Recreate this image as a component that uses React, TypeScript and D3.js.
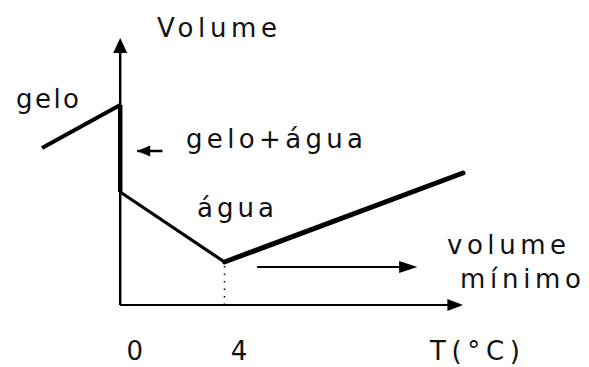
import React from "react";
import * as d3 from "d3";

// Temperature (°C) and relative volume along the curve
const segmentGelo = [
  { t: -3, v: 157 },
  { t: 0, v: 200 },
];
const segmentFusao = [
  { t: 0, v: 200 },
  { t: 0, v: 113 },
];
const segmentAguaFria = [
  { t: 0, v: 113 },
  { t: 4, v: 43 },
];
const segmentAguaQuente = [
  { t: 4, v: 43 },
  { t: 13.15, v: 132 },
];
const tickTemps = [0, 4];
const tickLabels = ["0", "4"];

const W = 589;
const H = 367;

type Label = { text: string; x: number; y: number; len: number };

export default function App() {
  const x = d3.scaleLinear().domain([-3, 13.15]).range([42, 463]);
  const y = d3.scaleLinear().domain([0, 265]).range([305, 40]);
  const line = d3
    .line<{ t: number; v: number }>()
    .x((d) => x(d.t))
    .y((d) => y(d.v));

  const x0 = x(0);
  const y0 = y(0);
  const tMin = segmentAguaFria[1];
  const font = "'DejaVu Sans', 'Liberation Sans', Arial, sans-serif";
  const textStyle = { fontFamily: font, fontSize: 26, fill: "#111" };

  const labels: Label[] = [
    { text: "Volume", x: 157, y: 37, len: 120 },
    { text: "gelo", x: 16, y: 108, len: 63 },
    { text: "gelo+água", x: 186, y: 148, len: 177 },
    { text: "água", x: 197, y: 217, len: 77 },
    { text: "volume", x: 447, y: 254, len: 119 },
    { text: "mínimo", x: 460, y: 288, len: 121 },
    { text: "T(°C)", x: 430, y: 360, len: 90 },
  ];

  return (
    <svg
      width={W}
      height={H}
      style={{ position: "absolute", left: 0, top: 0, background: "#fff" }}
    >
      {/* axes */}
      <line x1={x0} y1={y0} x2={x0} y2={y(262)} stroke="#000" strokeWidth={2.5} />
      <path d={`M${x0},${y(267)} L${x0 - 7},${y(252)} L${x0 + 7},${y(252)} Z`} fill="#000" />
      <line x1={x0} y1={y0} x2={x(12.7)} y2={y0} stroke="#000" strokeWidth={2} />
      <path d={`M${x(13.15)},${y0} L${x(12.55)},${y0 - 6} L${x(12.55)},${y0 + 6} Z`} fill="#000" />

      {/* guide at the minimum */}
      <line
        x1={x(tMin.t)}
        y1={y(tMin.v) + 4}
        x2={x(tMin.t)}
        y2={y0 + 3}
        stroke="#000"
        strokeWidth={1.5}
        strokeDasharray="1.5 6"
      />

      {/* curve */}
      <path d={line(segmentGelo) ?? ""} stroke="#000" strokeWidth={4} fill="none" />
      <path d={line(segmentFusao) ?? ""} stroke="#000" strokeWidth={4.5} fill="none" />
      <path d={line(segmentAguaFria) ?? ""} stroke="#000" strokeWidth={3.2} fill="none" />
      <path d={line(segmentAguaQuente) ?? ""} stroke="#000" strokeWidth={5} fill="none" strokeLinecap="round" />

      {/* pointer to melting segment */}
      <line x1={x(0.65)} y1={151} x2={x(1.62)} y2={151} stroke="#000" strokeWidth={2.5} />
      <path d={`M${x(0.65)},151 L${x(1.15)},145.5 L${x(1.15)},156.5 Z`} fill="#000" />

      {/* pointer to minimum volume */}
      <line x1={x(5.25)} y1={267} x2={x(10.8)} y2={267} stroke="#000" strokeWidth={2} />
      <path d={`M${x(11.4)},267 L${x(10.7)},261 L${x(10.7)},273 Z`} fill="#000" />

      {/* labels */}
      {labels.map((l) => (
        <text
          key={l.text}
          x={l.x}
          y={l.y}
          textLength={l.len}
          lengthAdjust="spacing"
          style={textStyle}
        >
          {l.text}
        </text>
      ))}
      {tickTemps.map((t, i) => (
        <text key={t} x={x(t) + 14.5} y={360} textAnchor="middle" style={textStyle}>
          {tickLabels[i]}
        </text>
      ))}
    </svg>
  );
}
